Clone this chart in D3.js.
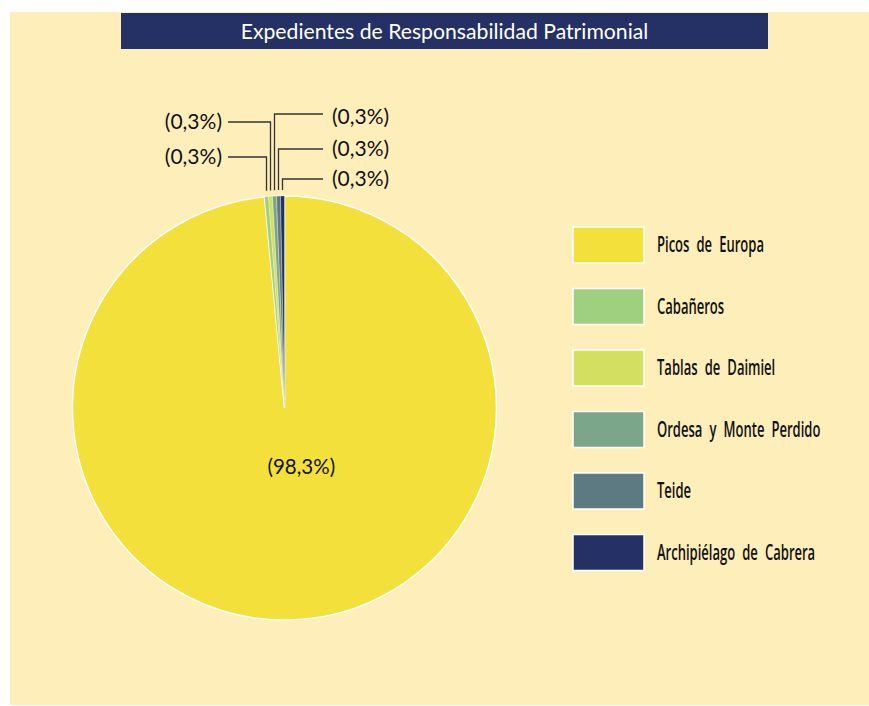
<!DOCTYPE html>
<html><head><meta charset="utf-8">
<script src="https://cdn.jsdelivr.net/npm/d3@7"></script>
<style>body{margin:0;background:#fff}svg{display:block}</style>
</head><body>
<svg id="chart" width="869" height="706"></svg>
<script>
const title = "Expedientes de Responsabilidad Patrimonial";
const categories = ["Picos de Europa","Cabañeros","Tablas de Daimiel","Ordesa y Monte Perdido","Teide","Archipiélago de Cabrera"];
const values = [98.3, 0.3, 0.3, 0.3, 0.3, 0.3];
const labels = ["(98,3%)","(0,3%)","(0,3%)","(0,3%)","(0,3%)","(0,3%)"];
const colors = ["#F3E03B","#9FD080","#D3DF61","#7BA68A","#5D7A83","#253064"];

const svg = d3.select("#chart");
svg.append("rect").attr("x",10).attr("y",12).attr("width",859).attr("height",693).attr("fill","#FEEEBA");
svg.append("rect").attr("x",121).attr("y",13).attr("width",647).attr("height",36).attr("fill","#253064");
svg.append("text").attr("x",444.5).attr("y",38.5).attr("text-anchor","middle")
  .attr("fill","#fff").attr("font-family","Lato, 'Open Sans', sans-serif").attr("font-size",21.2).text(title);

const cx = 284.5, cy = 408, r = 212;
const g = svg.append("g").attr("transform",`translate(${cx},${cy})`);
const pie = d3.pie().sort(null).value(d=>d)(values);
const arc = d3.arc().innerRadius(0).outerRadius(r);
const color = d3.scaleOrdinal().domain(categories).range(colors);
g.selectAll("path.s").data(pie).join("path").attr("class","s")
  .attr("d",arc).attr("fill",(d,i)=>color(categories[i]))
  .attr("stroke","#fff").attr("stroke-width",(d,i)=>i===0?1.5:0.3);

const font = "Lato, 'Open Sans', sans-serif";
// big label
const inner = d3.arc().innerRadius(0).outerRadius(r*0.56);
const c0 = inner.centroid(pie[0]);
g.append("text").attr("x",c0[0]+14).attr("y",c0[1]+7).attr("text-anchor","middle")
  .attr("font-family",font).attr("font-size",20.5).attr("fill","#111").text(labels[0]);

// small labels with leader lines
const labelY = [null, 157, 122, 114, 149, 179];
const side = [null, -1, -1, 1, 1, 1];
for (let i=1;i<pie.length;i++){
  const a = (pie[i].startAngle+pie[i].endAngle)/2;
  const x = Math.sin(a)*r, y0 = -Math.cos(a)*r - 6;
  const yl = labelY[i]-cy;
  const xe = side[i]<0 ? 228-cx : 323-cx;
  g.append("path").attr("d",`M${x},${y0}V${yl}H${xe}`).attr("fill","none")
    .attr("stroke","#333").attr("stroke-width",1.3);
  g.append("text").attr("x", side[i]<0 ? xe-6 : xe+9).attr("y", yl+ (i===3?10:7))
    .attr("text-anchor", side[i]<0?"end":"start").attr("font-family",font)
    .attr("font-size",21).attr("fill","#111").text(labels[i]);
}

// legend
const leg = svg.append("g").attr("transform","translate(573,227)");
categories.forEach((c,i)=>{
  const row = leg.append("g").attr("transform",`translate(0,${i*61.5})`);
  row.append("rect").attr("width",71).attr("height",36).attr("fill",color(c))
    .attr("stroke","#fff").attr("stroke-width",1.5);
  row.append("text").attr("transform","translate(84,25) scale(0.62,1)")
    .attr("font-family","'Open Sans', Lato, sans-serif")
    .attr("font-size",21).attr("font-weight",600).attr("word-spacing",6).attr("fill","#111").text(c);
});
</script>
</body></html>
